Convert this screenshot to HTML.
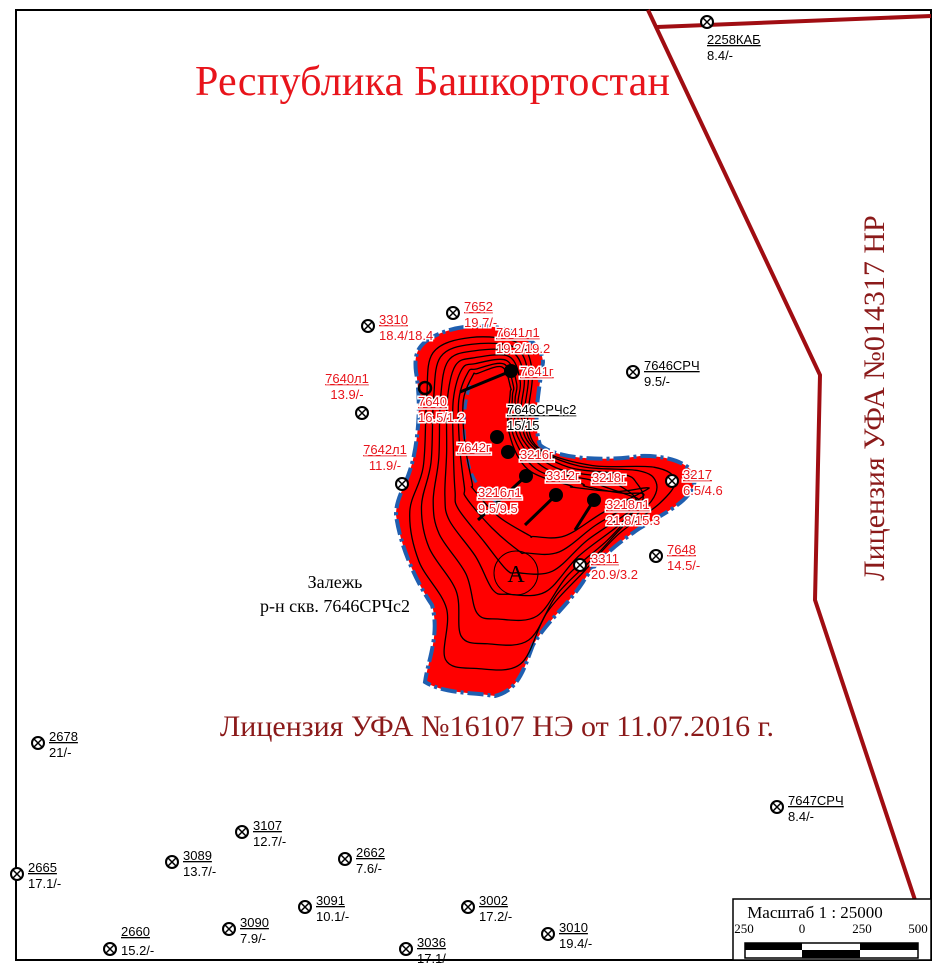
<!DOCTYPE html>
<html><head><meta charset="utf-8"><style>
html,body{margin:0;padding:0;background:#fff}
svg{display:block}
.lbl{font-family:"Liberation Sans",sans-serif;font-size:13px}
.ser{font-family:"Liberation Serif",serif}
</style></head><body>
<svg id="map" width="946" height="972" viewBox="0 0 946 972" xmlns="http://www.w3.org/2000/svg">
<rect x="16" y="10" width="915" height="950" fill="#fff" stroke="#000" stroke-width="2"/>
<g stroke="#a00d12" stroke-width="4" fill="none">
<polyline points="648,10 820,375 815,600 915,900"/>
<line x1="657" y1="27" x2="931" y2="16"/>
</g>
<text x="195" y="95" class="ser" font-size="42" fill="#e8141b" textLength="475">Республика Башкортостан</text>
<text transform="translate(884,398) rotate(-90)" text-anchor="middle" class="ser" font-size="30" fill="#8b1a1a">Лицензия УФА №014317 НР</text>
<text x="497" y="736" text-anchor="middle" class="ser" font-size="30" fill="#8b1a1a">Лицензия УФА №16107 НЭ от 11.07.2016 г.</text>
<g>
<path d="M425,342 C440,330 470,322 500,328 C525,333 542,345 543,362 C540,385 532,420 540,445 C555,458 600,462 640,456 C670,455 695,465 695,480 C692,500 670,510 640,528 C615,545 595,562 583,582 C568,605 548,620 533,645 C525,665 520,690 495,696 C470,692 445,694 425,682 C428,660 440,635 432,605 C415,580 400,545 396,515 C396,495 408,485 414,455 C420,425 420,395 416,372 C414,355 418,348 425,342 Z" fill="#ff0000" stroke="#1f5fb0" stroke-width="4" stroke-dasharray="16,4,3,4"/>
<path d="M470,385 C462,410 462,440 470,470 C478,490 490,500 505,505" fill="none" stroke="#1f5fb0" stroke-width="3" stroke-dasharray="10,5"/>
<g fill="none" stroke="#000" stroke-width="1.3" id="contours"></g>
<circle cx="516" cy="573" r="22" fill="none" stroke="#000" stroke-width="1"/>
<text x="516" y="582" text-anchor="middle" class="ser" font-size="24" fill="#000">A</text>
</g>
<text x="335" y="588" text-anchor="middle" class="ser" font-size="18">Залежь</text>
<text x="335" y="612" text-anchor="middle" class="ser" font-size="18">р-н скв. 7646СРЧс2</text>
<g id="wells"></g>
<g>
<rect x="733" y="899" width="198" height="61" fill="#fff" stroke="#000" stroke-width="1.5"/>
<text x="815" y="918" text-anchor="middle" class="ser" font-size="17">Масштаб 1 : 25000</text>
<g class="ser" font-size="13" text-anchor="middle">
<text x="744" y="933">250</text>
<text x="802" y="933">0</text>
<text x="862" y="933">250</text>
<text x="918" y="933">500</text>
</g>
<rect x="745" y="943" width="173" height="15" fill="#fff" stroke="#000" stroke-width="1.5"/>
<rect x="745" y="943" width="57" height="7" fill="#000"/>
<rect x="860" y="943" width="58" height="7" fill="#000"/>
<rect x="802" y="950" width="58" height="8" fill="#000"/>
</g>
</svg>
<script>
const NS="http://www.w3.org/2000/svg";
const wellNames=["2258КАБ","7646СРЧ","2678","7647СРЧ","3107","3089","2662","2665","3091","3002","3090","3036","3010","2660","3310","7652","7640л1","7642л1","7648","3217","3311"];
const wellX=[707,633,38,777,242,172,345,17,305,468,229,406,548,110,368,453,362,402,656,672,580];
const wellY=[22,372,743,807,832,862,859,874,907,907,929,949,934,949,326,313,413,484,556,481,565];
const wellValues=["8.4/-","9.5/-","21/-","8.4/-","12.7/-","13.7/-","7.6/-","17.1/-","10.1/-","17.2/-","7.9/-","17.1/-","19.4/-","15.2/-","18.4/18.4","19.7/-","13.9/-","11.9/-","14.5/-","6.5/4.6","20.9/3.2"];
const wellRed=[0,0,0,0,0,0,0,0,0,0,0,0,0,0,1,1,1,1,1,1,1];
const innerNames=["7641л1","7641г","7640","7642г","3216г","3312г","3218г","3216л1","3218л1"];
const innerValues=["19.2/19.2","","16.5/1.2","","","","","9.5/9.5","21.8/15.3"];
const innerX=[496,520,418,457,520,546,592,478,606];
const innerY=[337,376,406,452,459,480,482,497,509];
const dotX=[511,497,508,526,556,594];
const dotY=[371,437,452,476,495,500];
const W=document.getElementById('wells');
function txt(x,y,s,fill,extra){const t=document.createElementNS(NS,'text');t.setAttribute('x',x);t.setAttribute('y',y);t.setAttribute('class','lbl');t.setAttribute('fill',fill);if(extra)for(const k in extra)t.setAttribute(k,extra[k]);t.textContent=s;W.appendChild(t);return t;}
// tracks first
[[511,371,460,392],[526,476,478,520],[556,495,525,525],[594,500,575,530]].forEach((l,i)=>{
 const e=document.createElementNS(NS,'line');
 e.setAttribute('x1',l[0]);e.setAttribute('y1',l[1]);e.setAttribute('x2',l[2]);e.setAttribute('y2',l[3]);
 e.setAttribute('stroke','#000');e.setAttribute('stroke-width','3');
 
 
 W.appendChild(e);
});
dotX.forEach((x,i)=>{
 const c=document.createElementNS(NS,'circle');
 c.setAttribute('cx',x);c.setAttribute('cy',dotY[i]);c.setAttribute('r',7);c.setAttribute('fill','#000');
 
 
 W.appendChild(c);
});
const ring=document.createElementNS(NS,'circle');
ring.setAttribute('cx',425);ring.setAttribute('cy',388);ring.setAttribute('r',6);ring.setAttribute('fill','none');ring.setAttribute('stroke','#000');ring.setAttribute('stroke-width','2.5');


W.appendChild(ring);
wellNames.forEach((n,i)=>{
 const g=document.createElementNS(NS,'g');
 
 
 const x=wellX[i],y=wellY[i];
 g.innerHTML=`<circle cx="${x}" cy="${y}" r="6" fill="#fff" stroke="#000" stroke-width="2"/><line x1="${x-4}" y1="${y-4}" x2="${x+4}" y2="${y+4}" stroke="#000" stroke-width="1.5"/><line x1="${x+4}" y1="${y-4}" x2="${x-4}" y2="${y+4}" stroke="#000" stroke-width="1.5"/>`;
 W.appendChild(g);
 const col=wellRed[i]?"#e8141b":"#000";
 let lx=x+11,ly=y-2,vy=y+14,anchor='start';
 if(n==="2258КАБ"){lx=x;ly=y+22;vy=y+38;}
 if(n==="7640л1"||n==="7642л1"){lx=x-15+(n==="7640л1"?0:-2);ly=y-30;vy=y-14;anchor='middle';}
 if(n==="2660"){ly=y-13;vy=y+6;}
 const halo=wellRed[i]?{'stroke':'#fff','stroke-width':'3','paint-order':'stroke'}:{};
 const a=txt(lx,ly,n,col,Object.assign({'text-anchor':anchor,'text-decoration':'underline'},halo));
 
 
 const b=txt(lx,vy,wellValues[i],col,Object.assign({'text-anchor':anchor},halo));
 
 
});
innerNames.forEach((n,i)=>{
 const halo={'text-decoration':'underline','stroke':'#fff','stroke-width':'3','paint-order':'stroke'};
 const a=txt(innerX[i],innerY[i],n,"#e8141b",halo);
 
 
 if(innerValues[i]){const b=txt(innerX[i],innerY[i]+16,innerValues[i],"#e8141b",{'stroke':'#fff','stroke-width':'3','paint-order':'stroke'});
 
 }
});
const c2=txt(507,414,"7646СРЧс2","#000",{'text-decoration':'underline','stroke':'#fff','stroke-width':'3','paint-order':'stroke'});


const c3=txt(507,430,"15/15","#000",{'stroke':'#fff','stroke-width':'3','paint-order':'stroke'});


const C=document.getElementById('contours');
const base=[[428,350],[470,333],[520,340],[535,370],[530,425],[545,452],[600,465],[665,465],[688,480],[665,505],[615,540],[578,580],[540,625],[515,680],[470,685],[435,675],[440,620],[412,570],[402,515],[418,470],[422,400]];
const core=[[478,378],[500,370],[508,390],[505,430],[520,470],[560,488],[610,490],[650,482],[610,500],[570,520],[540,520],[505,505],[480,480],[470,440],[468,400]];
const levels=[0.1,0.25,0.4,0.55,0.68,0.8,0.9];
levels.forEach(t=>{
 const pts=base.map((p,i)=>{const q=core[Math.floor(i*core.length/base.length)];return [p[0]+(q[0]-p[0])*t,p[1]+(q[1]-p[1])*t];});
 let d="M"+pts[0].join(",");
 for(let i=0;i<pts.length;i++){const p0=pts[(i-1+pts.length)%pts.length],p1=pts[i],p2=pts[(i+1)%pts.length],p3=pts[(i+2)%pts.length];
 d+=` C${p1[0]+(p2[0]-p0[0])/6},${p1[1]+(p2[1]-p0[1])/6} ${p2[0]-(p3[0]-p1[0])/6},${p2[1]-(p3[1]-p1[1])/6} ${p2[0]},${p2[1]}`;}
 const p=document.createElementNS(NS,'path');p.setAttribute('d',d+"Z");
 
 
 C.appendChild(p);
});
</script>
</body></html>
